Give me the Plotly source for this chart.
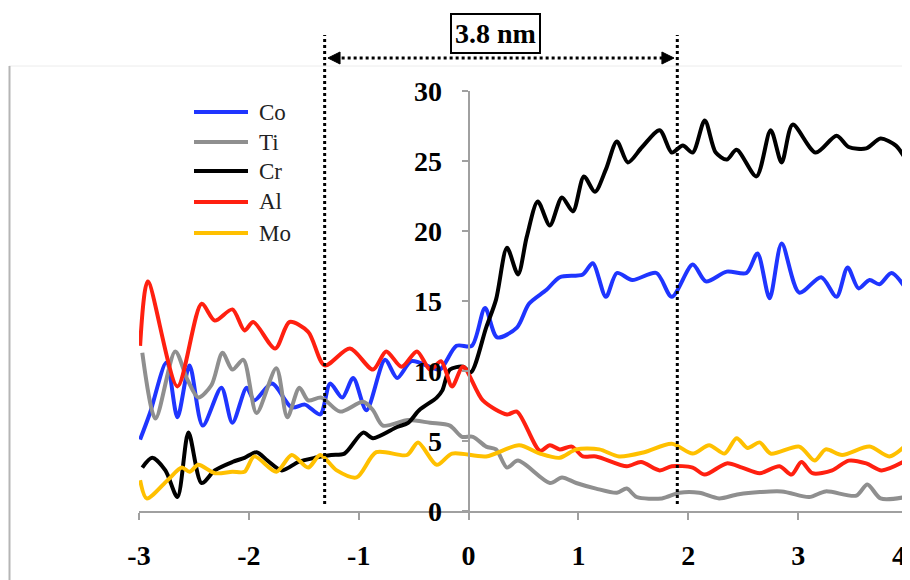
import plotly.graph_objects as go

# ---- data ----
co_x = [-2.99, -2.90, -2.75, -2.65, -2.54, -2.42, -2.25, -2.15, -2.02, -1.95, -1.79, -1.61, -1.49, -1.35,
        -1.26, -1.15, -1.05, -0.93, -0.76, -0.65, -0.52, -0.35, -0.26, -0.11, 0.03, 0.15, 0.26, 0.44, 0.55,
        0.71, 0.83, 1.04, 1.13, 1.25, 1.35, 1.49, 1.71, 1.85, 2.04, 2.16, 2.35, 2.53, 2.63, 2.74, 2.85,
        3.01, 3.21, 3.35, 3.45, 3.55, 3.65, 3.74, 3.85, 3.98]
co_y = [5.1, 7.0, 10.6, 6.7, 10.4, 6.1, 8.8, 6.3, 8.8, 7.9, 9.1, 7.4, 7.6, 6.9,
        9.1, 8.1, 9.5, 7.2, 10.8, 9.5, 10.7, 10.3, 10.1, 11.8, 11.8, 14.5, 12.4, 13.1, 14.8,
        15.8, 16.7, 16.9, 17.7, 15.3, 17.0, 16.5, 17.0, 15.3, 17.6, 16.4, 17.1, 17.0, 18.4, 15.2, 19.1,
        15.6, 16.7, 15.3, 17.4, 15.9, 16.5, 16.2, 17.0, 15.9]

ti_x = [-2.97, -2.85, -2.67, -2.56, -2.46, -2.34, -2.24, -2.15, -2.05, -1.93, -1.75, -1.65, -1.54, -1.46,
        -1.34, -1.17, -0.96, -0.87, -0.78, -0.55, -0.35, -0.17, -0.06, 0.04, 0.16, 0.25, 0.35, 0.45,
        0.74, 0.85, 0.98, 1.16, 1.35, 1.44, 1.53, 1.76, 1.92, 2.10, 2.28, 2.46, 2.85, 3.10, 3.25, 3.53,
        3.63, 3.75, 3.98]
ti_y = [11.3, 6.6, 11.4, 9.4, 8.1, 9.0, 11.3, 10.1, 10.8, 7.0, 10.2, 6.7, 8.8, 7.9,
        8.1, 7.1, 7.8, 7.2, 6.1, 6.5, 6.3, 6.1, 5.3, 5.3, 4.6, 4.4, 3.1, 3.6,
        2.0, 2.4, 2.0, 1.6, 1.3, 1.6, 1.0, 0.9, 1.3, 1.3, 0.9, 1.2, 1.4, 1.0, 1.4, 1.1,
        1.9, 0.9, 1.0]

cr_x = [-2.97, -2.88, -2.76, -2.65, -2.55, -2.43, -2.31, -2.15, -2.04, -1.93, -1.83, -1.70, -1.55, -1.40,
        -1.25, -1.13, -0.96, -0.87, -0.65, -0.55, -0.45, -0.29, -0.24, -0.17, -0.05, 0.02, 0.16, 0.25,
        0.35, 0.45, 0.53, 0.63, 0.74, 0.85, 0.95, 1.05, 1.15, 1.25, 1.35, 1.45, 1.58, 1.74, 1.85, 1.95,
        2.04, 2.15, 2.25, 2.35, 2.44, 2.62, 2.75, 2.85, 2.95, 3.16, 3.35, 3.46, 3.62, 3.75, 3.89, 3.98]
cr_y = [3.1, 3.8, 2.9, 1.0, 5.6, 2.0, 2.9, 3.5, 3.8, 4.2, 3.6, 2.9, 3.5, 3.8,
        4.0, 4.1, 5.6, 5.2, 6.0, 6.3, 7.2, 8.1, 8.6, 10.1, 10.3, 9.9, 13.1, 15.1,
        18.8, 16.9, 19.6, 22.1, 20.4, 22.4, 21.4, 23.9, 22.8, 24.4, 26.4, 24.9, 26.0, 27.2, 25.6, 26.1,
        25.6, 27.9, 25.6, 25.1, 25.8, 23.9, 27.2, 24.9, 27.6, 25.6, 26.8, 26.0, 25.9, 26.6, 26.1, 25.1]

al_x = [-2.99, -2.92, -2.65, -2.43, -2.31, -2.15, -2.04, -1.96, -1.76, -1.63, -1.46, -1.31, -1.08, -0.87,
        -0.75, -0.61, -0.47, -0.35, -0.25, -0.15, -0.05, 0.13, 0.35, 0.44, 0.65, 0.74, 0.83, 0.94, 1.04,
        1.16, 1.44, 1.57, 1.74, 1.85, 2.04, 2.15, 2.35, 2.49, 2.65, 2.83, 2.94, 3.03, 3.13, 3.31, 3.46,
        3.62, 3.76, 3.98]
al_y = [11.8, 16.4, 8.9, 14.8, 13.6, 14.4, 12.9, 13.5, 11.6, 13.5, 12.8, 10.4, 11.6, 10.1,
        11.4, 10.3, 11.4, 10.1, 10.7, 8.9, 10.3, 7.9, 6.9, 7.1, 4.3, 4.7, 4.4, 4.6, 3.9,
        3.9, 3.2, 3.5, 2.9, 3.2, 3.1, 2.6, 3.4, 3.1, 2.7, 3.2, 2.6, 3.5, 2.7, 2.9, 3.6,
        3.4, 2.9, 3.6]

mo_x = [-2.99, -2.93, -2.74, -2.61, -2.54, -2.46, -2.31, -2.15, -2.04, -1.95, -1.75, -1.61, -1.46, -1.35,
        -1.20, -1.02, -0.84, -0.56, -0.46, -0.29, -0.15, 0.16, 0.46, 0.65, 0.83, 0.98, 1.19, 1.37, 1.60,
        1.85, 2.04, 2.19, 2.33, 2.44, 2.54, 2.65, 2.75, 3.01, 3.15, 3.25, 3.40, 3.65, 3.83, 3.98]
mo_y = [2.2, 0.9, 2.2, 3.1, 2.8, 3.3, 2.7, 2.8, 2.8, 3.9, 2.8, 4.0, 3.1, 4.0,
        2.9, 2.4, 4.2, 4.0, 4.9, 3.3, 4.1, 3.9, 4.7, 4.1, 3.8, 4.4, 4.4, 3.9, 4.2,
        4.8, 4.1, 4.7, 4.1, 5.2, 4.5, 4.9, 4.1, 4.6, 3.6, 4.4, 4.0, 4.6, 3.9, 4.7]

series_names = ["Co", "Ti", "Cr", "Al", "Mo"]
series_colors = ["#1f35ff", "#8f8f8f", "#000000", "#ff2010", "#ffc000"]

x_tick_vals = [-3, -2, -1, 0, 1, 2, 3, 4]
x_tick_labels = ["-3", "-2", "-1", "0", "1", "2", "3", "4"]
y_tick_vals = [0, 5, 10, 15, 20, 25, 30]

marker_left = -1.31     # interface region bounds (nm)
marker_right = 1.90
width_label = "3.8 nm"

# ---- figure ----
SERIF = "Liberation Serif, Times New Roman, serif"
TICKFONT = dict(family=SERIF, size=28, color="black", weight="bold")
fig = go.Figure()
xs = [co_x, ti_x, cr_x, al_x, mo_x]
ys = [co_y, ti_y, cr_y, al_y, mo_y]
for name, color, x, y in zip(series_names, series_colors, xs, ys):
    fig.add_trace(go.Scatter(x=x, y=y, mode="lines", name=name,
                             line=dict(color=color, width=4, shape="spline", smoothing=0.8),
                             showlegend=False))

# plot area: 769 x 420 px; page body adds an 8 px offset
PW, PH = 769.0, 420.0
def px_x(px):  # page pixel -> paper x
    return (px - 139) / PW
def px_y(py):  # page pixel -> paper y
    return (511 - py) / PH

shapes = []
# vertical dotted markers
for xm in (marker_left, marker_right):
    shapes.append(dict(type="line", xref="x", yref="paper", x0=xm, x1=xm, y0=px_y(504), y1=px_y(35),
                       line=dict(color="black", width=3, dash="dot")))
# horizontal dotted double arrow
ya = px_y(58)
shapes.append(dict(type="line", xref="x", yref="paper", x0=marker_left + 0.1, x1=marker_right - 0.1,
                   y0=ya, y1=ya, line=dict(color="black", width=3, dash="dot")))
h = 6 / PH
shapes.append(dict(type="path", xref="x", yref="paper",
                   path=f"M {marker_left + 0.03},{ya} L {marker_left + 0.14},{ya + h} L {marker_left + 0.14},{ya - h} Z",
                   fillcolor="black", line=dict(color="black", width=1)))
shapes.append(dict(type="path", xref="x", yref="paper",
                   path=f"M {marker_right - 0.03},{ya} L {marker_right - 0.14},{ya + h} L {marker_right - 0.14},{ya - h} Z",
                   fillcolor="black", line=dict(color="black", width=1)))
# faint frame
shapes.append(dict(type="line", xref="paper", yref="paper", x0=px_x(9), x1=1.01, y0=px_y(66), y1=px_y(66),
                   line=dict(color="#ececec", width=1)))
shapes.append(dict(type="line", xref="paper", yref="paper", x0=px_x(9.5), x1=px_x(9.5), y0=px_y(66), y1=px_y(590),
                   line=dict(color="#b5b5b5", width=2)))

annotations = [dict(text=f"<b>{width_label}</b>", xref="paper", yref="paper", x=px_x(495), y=px_y(33),
                    xanchor="center", yanchor="middle",
                    showarrow=False, font=dict(family=SERIF, size=28, color="black"),
                    bordercolor="black", borderwidth=2, borderpad=3, bgcolor="white")]

# manual legend
leg_y_px = [112, 142, 171, 202, 233]
for name, color, py in zip(series_names, series_colors, leg_y_px):
    yp = px_y(py)
    shapes.append(dict(type="line", xref="paper", yref="paper", x0=px_x(194), x1=px_x(248),
                       y0=yp, y1=yp, line=dict(color=color, width=4)))
    annotations.append(dict(text=name, xref="paper", yref="paper", x=px_x(257), y=yp,
                            xanchor="left", yanchor="middle", showarrow=False,
                            font=dict(family=SERIF, size=23, color="#222")))

# last x label sits at the window edge: right-align it on its tick so it stays visible
tick_text = x_tick_labels[:-1] + [""]
annotations.append(dict(text=x_tick_labels[-1], xref="x", yref="paper", x=x_tick_vals[-1], y=px_y(555),
                        xanchor="right", yanchor="middle", showarrow=False, font=TICKFONT))

fig.update_layout(
    width=902, height=572,
    margin=dict(l=131, r=2, t=83, b=69, autoexpand=False),
    paper_bgcolor="white", plot_bgcolor="white",
    shapes=shapes, annotations=annotations, showlegend=False,
    xaxis=dict(range=[-3, 4], tickvals=x_tick_vals, ticktext=tick_text, automargin=False,
               showgrid=False, zeroline=False, showline=True, linecolor="#a0a0a0", linewidth=2,
               ticks="outside", ticklen=7, tickwidth=2, tickcolor="#a0a0a0",
               ticklabelstandoff=11, tickfont=TICKFONT),
    yaxis=dict(range=[0, 30], tickvals=y_tick_vals, anchor="free", position=3 / 7, automargin=False,
               showgrid=False, zeroline=False, showline=True, linecolor="#a0a0a0", linewidth=2,
               ticks="outside", ticklen=6, tickwidth=2, tickcolor="#a0a0a0",
               ticklabelstandoff=14, tickfont=TICKFONT),
)

fig.write_html("out.html")
